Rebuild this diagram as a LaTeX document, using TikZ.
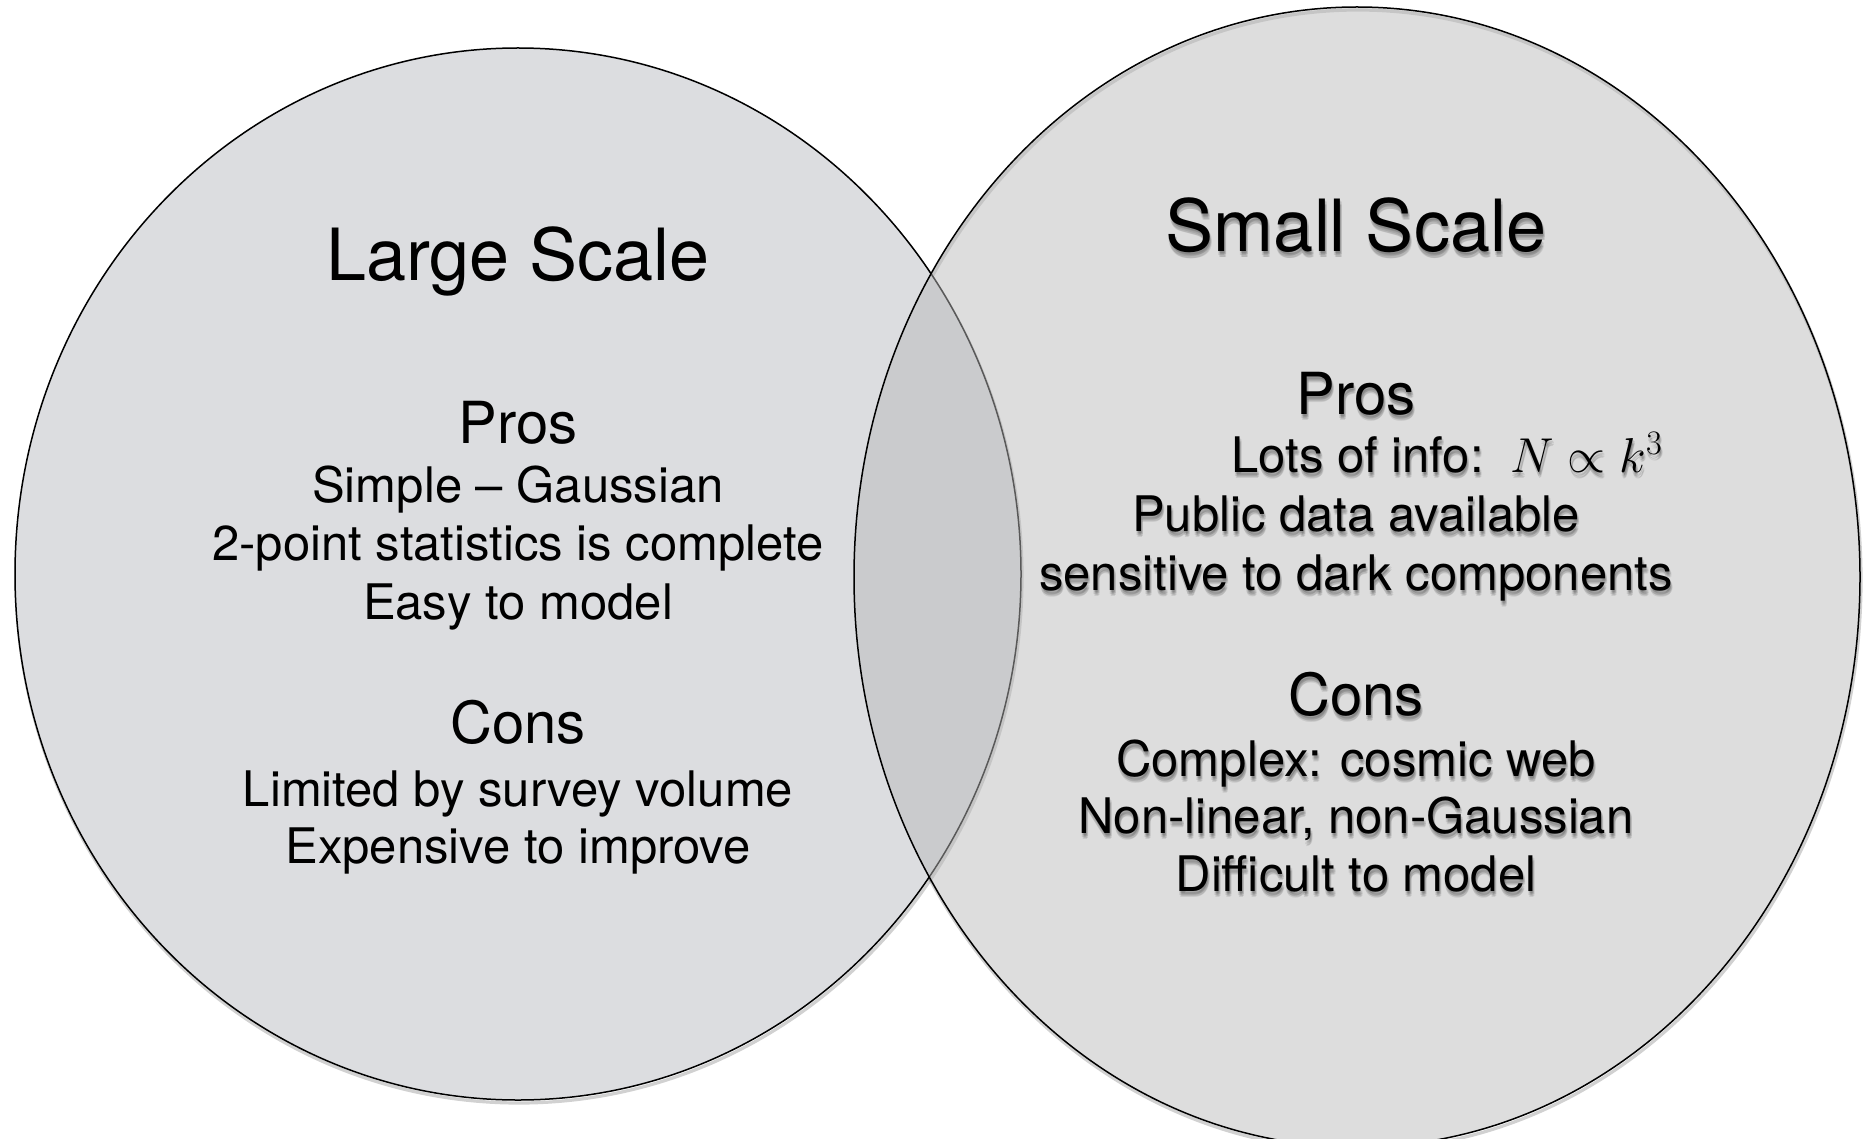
\RequirePackage{fix-cm}
\documentclass[tikz,border=0pt]{standalone}
\usepackage{fontspec}
\setmainfont{TeX Gyre Heros}
\usetikzlibrary{calc}
\definecolor{leftfill}{RGB}{220,221,224}
\definecolor{rightfill}{RGB}{185,185,185}
\tikzset{
  ttl/.style={font=\fontsize{36}{40}\selectfont, anchor=base, inner sep=0pt},
  hdr/.style={font=\fontsize{29}{33}\selectfont, anchor=base, inner sep=0pt},
  bdy/.style={font=\fontsize{24.5}{28}\selectfont, anchor=base, inner sep=0pt},
  rim/.style={draw=black, line width=0.75pt},
  rimshadow/.style={draw=black, line width=1.6pt, opacity=0.18},
}
\newcommand\shtext[4]{%
  \foreach \dx/\dy/\k in {1/2/a,2/3/b,0/4/c,2/5/d,1/6/e}
    \node[#2, text=black, opacity=0.09] (#1-\k) at ($(#3)+(\dx,\dy)$) {#4};
  \node[#2] (#1) at (#3) {#4};
}
\begin{document}
\begin{tikzpicture}[x=0.5pt, y=-0.5pt]
\useasboundingbox (0,0) rectangle (1863,1139);
% ellipse shadows
\draw[rimshadow] (519,577) ellipse [x radius=503, y radius=526];
\draw[rimshadow] (1358,580) ellipse [x radius=503, y radius=570];
% left ellipse
\fill[leftfill] (518,574) ellipse [x radius=503, y radius=526];
\draw[rim] (518,574) ellipse [x radius=503, y radius=526];
% right ellipse
\fill[rightfill, fill opacity=0.486] (1357,577) ellipse [x radius=503, y radius=570];
\draw[rim] (1357,577) ellipse [x radius=503, y radius=570];

% left texts
\node[ttl] (ltitle) at (518,280) {Large Scale};
\node[hdr] (lpros) at (518,443) {Pros};
\node[bdy] (lp1) at (518,502) {Simple -- Gaussian};
\node[bdy] (lp2) at (518,560) {2-point statistics is complete};
\node[bdy] (lp3) at (518,619) {Easy to model};
\node[hdr] (lcons) at (518,743) {Cons};
\node[bdy] (lc1) at (518,806) {Limited by survey volume};
\node[bdy] (lc2) at (518,863) {Expensive to improve};

% right texts
\coordinate (pt) at (1356,252);
\shtext{rtitle}{ttl}{pt}{Small Scale}
\coordinate (pp) at (1356,414);
\shtext{rpros}{hdr}{pp}{Pros}
\coordinate (p1) at (1231,472);
\shtext{rp1}{bdy, anchor=base west}{p1}{Lots of info:\hspace{0.55em}$N\propto k^3$}
\coordinate (p2) at (1356,531);
\shtext{rp2}{bdy}{p2}{Public data available}
\coordinate (p3) at (1356,590);
\shtext{rp3}{bdy}{p3}{sensitive to dark components}
\coordinate (pc) at (1356,715);
\shtext{rcons}{hdr}{pc}{Cons}
\coordinate (c1) at (1356,776);
\shtext{rc1}{bdy}{c1}{Complex: cosmic web}
\coordinate (c2) at (1356,833);
\shtext{rc2}{bdy}{c2}{Non-linear, non-Gaussian}
\coordinate (c3) at (1356,891);
\shtext{rc3}{bdy}{c3}{Difficult to model}
\end{tikzpicture}
\end{document}
